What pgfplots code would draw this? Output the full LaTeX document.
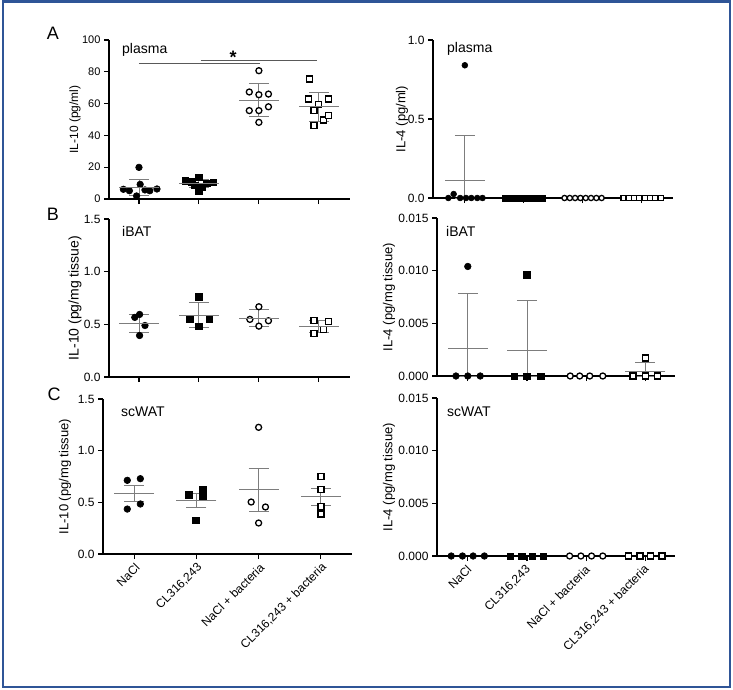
\documentclass[border=0pt]{standalone}
\usepackage{fontspec}
\setmainfont{Liberation Sans}
\usepackage{pgfplots}
\pgfplotsset{compat=1.18}
\definecolor{framecol}{RGB}{47,85,151}
\definecolor{errcol}{RGB}{125,125,125}
\newcommand{\lab}{\fontsize{13bp}{15bp}\selectfont}
\pgfplotsset{
  panel/.style={
    scale only axis,
    anchor=south west,
    axis x line*=bottom, axis y line*=left,
    axis line style={-, line width=1.3bp, black},
    every outer x axis line/.append style={-},
    every outer y axis line/.append style={-},
    tick style={black, line width=1.1bp},
    major tick length=5bp,
    tick align=outside,
    xtick={0,1,2,3},
    xticklabels={},
    ymin=0,
    scaled y ticks=false,
    yticklabel style={font=\fontsize{12bp}{14bp}\selectfont},
    /pgf/number format/assume math mode=true,
  },
  ylab/.style={ylabel style={at={(axis description cs:#1,0.5)}, anchor=center, rotate=0}},
  fc/.style={only marks, mark=*, mark size=3.3bp, mark options={draw=black, fill=black, line width=0.6bp}},
  fs/.style={only marks, mark=square*, mark size=3.2bp, mark options={draw=black, fill=black, line width=0.6bp}},
  oc/.style={only marks, mark=*, mark size=3.0bp, mark options={draw=black, fill=white, line width=1.3bp}},
  os/.style={only marks, mark=square*, mark size=3.0bp, mark options={draw=black, fill=white, line width=1.3bp}},
  mean/.style={only marks, mark=-, mark size=20bp, color=errcol,
    mark options={line width=0.9bp, color=errcol},
    error bars/.cd, y dir=both, y explicit,
    error bar style={errcol, line width=0.9bp},
    error mark=|,
    error mark options={errcol, mark size=10bp, line width=0.9bp}},
  catlabels/.style={
    xticklabels={NaCl, {CL316,243}, NaCl + bacteria, {CL316,243 + bacteria}},
    xticklabel style={xshift=#1, yshift=-5bp, rotate=45, anchor=east, font=\fontsize{12bp}{14bp}\selectfont, inner sep=2bp},
  },
}
\begin{document}
\begin{tikzpicture}
\path[use as bounding box] (0bp,0bp) rectangle (733bp,-690bp);
\draw[framecol, line width=2bp] (2.5bp,-1.5bp) rectangle (730bp,-687bp);

% ---------- A left ----------
\begin{axis}[panel, at={(109bp,-199bp)}, width=241bp, height=159bp,
  xmin=-0.5, xmax=3.52, ymax=100, ytick={0,20,40,60,80,100},
  yticklabel style={font=\fontsize{11bp}{13bp}\selectfont},
  ylab=-0.141, ylabel={\fontsize{12bp}{14bp}\selectfont IL-10 (pg/ml)}]
\addplot[fc] coordinates {(-0.26,6.1) (-0.16,5.2) (-0.04,1.9) (0.02,9.2) (0.0,19.9) (0.1,5.7) (0.18,5.2) (0.3,6.3)};
\addplot[fs] coordinates {(0.77,11.5) (0.88,10.9) (1.0,13.6) (1.0,5.2) (1.13,9.9) (1.24,10.5) (0.93,8.6) (1.06,7.8)};
\addplot[oc] coordinates {(2,80.7) (1.84,67.3) (2,65.6) (2.16,66) (1.84,55.6) (2,55.6) (2.16,58) (2,48.2)};
\addplot[os] coordinates {(2.84,75.5) (2.83,62.9) (3,59.3) (3.16,62.9) (2.92,55.6) (3.08,49.7) (3.16,52.4) (2.92,46.3)};
\addplot[mean] coordinates {(0,7.4) +- (0,5) (1,9.75) +- (0,2.5) (2,62.1) +- (0,10.3) (3,58.1) +- (0,9.2)};
\draw[black!65, line width=0.8bp] (axis cs:0,85.5) -- (axis cs:2.02,85.5);
\draw[black!65, line width=0.8bp] (axis cs:1.03,87.4) -- (axis cs:2.97,87.4);
\node[font=\fontsize{18bp}{20bp}\selectfont\bfseries] at (axis cs:1.57,89) {*};
\end{axis}

% ---------- A right ----------
\begin{axis}[panel, at={(433bp,-198bp)}, width=240bp, height=158bp,
  xmin=-0.54, xmax=3.53, ymax=1, ytick={0,0.5,1},
  yticklabel style={/pgf/number format/.cd, fixed, fixed zerofill, precision=1},
  ylab=-0.129, ylabel={\lab IL-4 (pg/ml)}]
\addplot[fc, mark size=2.9bp] coordinates {(-0.28,0) (-0.19,0.025) (-0.08,0) (0,0.84) (0.02,0) (0.11,0) (0.21,0) (0.3,0)};
\addplot[fs, mark size=2.8bp] coordinates {(0.69,0) (0.78,0) (0.87,0) (0.96,0) (1.05,0) (1.14,0) (1.23,0) (1.32,0)};
\addplot[oc, mark size=2.6bp] coordinates {(1.69,0) (1.78,0) (1.87,0) (1.96,0) (2.05,0) (2.14,0) (2.23,0) (2.32,0)};
\addplot[os, mark size=2.6bp] coordinates {(2.69,0) (2.78,0) (2.87,0) (2.96,0) (3.05,0) (3.14,0) (3.23,0) (3.32,0)};
\addplot[mean] coordinates {(0,0.108) += (0,0.29) -= (0,0.108)};
\end{axis}

% ---------- B left ----------
\begin{axis}[panel, at={(109bp,-377bp)}, width=241bp, height=158bp,
  xmin=-0.5, xmax=3.52, ymax=1.5, ytick={0,0.5,1,1.5},
  yticklabel style={/pgf/number format/.cd, fixed, fixed zerofill, precision=1},
  ylab=-0.141, ylabel={\fontsize{14bp}{16bp}\selectfont IL-10 (pg/mg tissue)}]
\addplot[fc] coordinates {(-0.07,0.566) (0.01,0.594) (0.1,0.489) (0.01,0.394)};
\addplot[fs] coordinates {(1,0.763) (0.85,0.553) (1.17,0.553) (1,0.483)};
\addplot[oc] coordinates {(2,0.667) (1.85,0.547) (2.16,0.534) (2,0.483)};
\addplot[os] coordinates {(2.92,0.534) (3.16,0.524) (3.08,0.451) (2.92,0.413)};
\addplot[mean] coordinates {(0,0.511) +- (0,0.087) (1,0.588) +- (0,0.122) (2,0.558) +- (0,0.079) (3,0.48) +- (0,0.058)};
\end{axis}

% ---------- B right ----------
\begin{axis}[panel, at={(437bp,-376bp)}, width=238bp, height=158bp,
  xmin=-0.52, xmax=3.5, ymax=0.015, ytick={0,0.005,0.01,0.015},
  yticklabel style={/pgf/number format/.cd, fixed, fixed zerofill, precision=3},
  ylab=-0.202, ylabel={\lab IL-4 (pg/mg tissue)}]
\addplot[fc] coordinates {(-0.2,0) (0,0) (0.21,0) (0,0.0104)};
\addplot[fs] coordinates {(0.79,0) (1,0) (1.23,0) (1,0.0096)};
\addplot[oc] coordinates {(1.73,0) (1.89,0) (2.06,0) (2.28,0)};
\addplot[os] coordinates {(2.79,0) (3,0) (3.2,0) (3,0.0017)};
\addplot[mean] coordinates {(0,0.0026) += (0,0.0052) -= (0,0.0026) (1,0.0024) += (0,0.0048) -= (0,0.0024) (3,0.00043) += (0,0.00084) -= (0,0.00043)};
\end{axis}

% ---------- C left ----------
\begin{axis}[panel, catlabels=5bp, at={(103bp,-554bp)}, width=249bp, height=155bp,
  xmin=-0.5, xmax=3.5, ymax=1.5, ytick={0,0.5,1,1.5},
  yticklabel style={/pgf/number format/.cd, fixed, fixed zerofill, precision=1},
  ylab=-0.153, ylabel={\lab IL-10 (pg/mg tissue)}]
\addplot[fc] coordinates {(-0.11,0.713) (0.1,0.729) (-0.11,0.435) (0.1,0.484)};
\addplot[fs] coordinates {(0.88,0.574) (1.1,0.623) (1.1,0.552) (0.99,0.326)};
\addplot[oc] coordinates {(2,1.226) (1.88,0.503) (2.11,0.455) (2,0.3)};
\addplot[os] coordinates {(3,0.752) (3,0.623) (3,0.461) (3,0.387)};
\addplot[mean] coordinates {(0,0.59) +- (0,0.078) (1,0.519) +- (0,0.065) (2,0.621) +- (0,0.205) (3,0.556) +- (0,0.083)};
\end{axis}

% ---------- C right ----------
\begin{axis}[panel, catlabels=3bp, at={(437bp,-556bp)}, width=238bp, height=158bp,
  xmin=-0.52, xmax=3.5, ymax=0.015, ytick={0,0.005,0.01,0.015},
  yticklabel style={/pgf/number format/.cd, fixed, fixed zerofill, precision=3},
  ylab=-0.202, ylabel={\lab IL-4 (pg/mg tissue)}]
\addplot[fc] coordinates {(-0.28,0) (-0.09,0) (0.09,0) (0.28,0)};
\addplot[fs] coordinates {(0.72,0) (0.91,0) (1.09,0) (1.28,0)};
\addplot[oc] coordinates {(1.72,0) (1.91,0) (2.09,0) (2.28,0)};
\addplot[os] coordinates {(2.72,0) (2.91,0) (3.09,0) (3.28,0)};
\end{axis}

% panel letters and panel titles
\node[font=\fontsize{18bp}{20bp}\selectfont] at (53bp,-33bp) {A};
\node[font=\fontsize{18bp}{20bp}\selectfont] at (53bp,-214bp) {B};
\node[font=\fontsize{18bp}{20bp}\selectfont] at (54bp,-394bp) {C};
\node[font=\fontsize{14bp}{16bp}\selectfont, anchor=west, inner sep=0pt] at (122bp,-50bp) {plasma};
\node[font=\fontsize{14bp}{16bp}\selectfont, anchor=west, inner sep=0pt] at (447bp,-49bp) {plasma};
\node[font=\fontsize{14bp}{16bp}\selectfont, anchor=west, inner sep=0pt] at (122bp,-231bp) {iBAT};
\node[font=\fontsize{14bp}{16bp}\selectfont, anchor=west, inner sep=0pt] at (446bp,-231bp) {iBAT};
\node[font=\fontsize{14bp}{16bp}\selectfont, anchor=west, inner sep=0pt] at (121bp,-412bp) {scWAT};
\node[font=\fontsize{14bp}{16bp}\selectfont, anchor=west, inner sep=0pt] at (447bp,-412bp) {scWAT};
\end{tikzpicture}
\end{document}
